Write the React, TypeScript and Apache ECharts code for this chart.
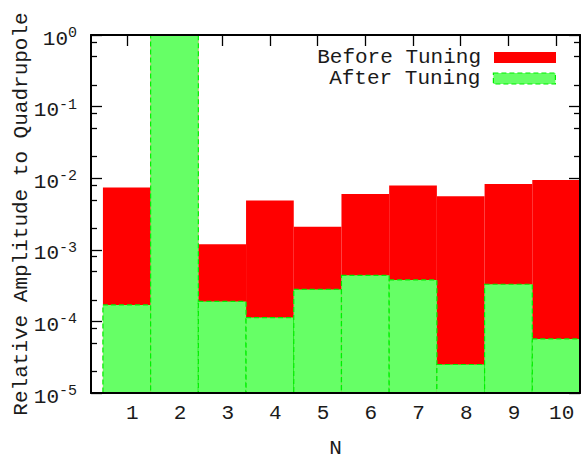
import React, { useEffect, useRef } from "react";
import * as echarts from "echarts";

const categories = [1, 2, 3, 4, 5, 6, 7, 8, 9, 10];
const beforeTuning = [7.4e-3, 1, 1.2e-3, 4.9e-3, 2.1e-3, 6.0e-3, 7.9e-3, 5.6e-3, 8.3e-3, 9.4e-3];
const afterTuning = [1.7e-4, 1, 1.9e-4, 1.13e-4, 2.8e-4, 4.4e-4, 3.8e-4, 2.5e-5, 3.3e-4, 5.7e-5];
const majorTicks = [1e-5, 1e-4, 1e-3, 1e-2, 1e-1, 1];
const minorTicks = [
  2e-5, 5e-5, 8e-5,
  2e-4, 5e-4, 8e-4,
  2e-3, 5e-3, 8e-3,
  2e-2, 5e-2, 8e-2,
  2e-1, 5e-1, 8e-1,
];

const FONT = "Liberation Mono";
const TEXT = "#1a1a1a";
const RED = "#ff0000";
const GREEN = "#66ff66";
const GREEN_EDGE = "#00f000";

export default function App() {
  const ref = useRef<HTMLDivElement>(null);
  useEffect(() => {
    if (!ref.current) return;
    const chart = echarts.init(ref.current, undefined, { renderer: "svg" });

    const barSeries = (name: string, values: number[], fill: string, stroke: string | null) => ({
      type: "custom",
      name,
      xAxisIndex: 0,
      yAxisIndex: 0,
      data: categories.map((c, i) => [c, values[i]]),
      itemStyle: stroke
        ? { color: fill, borderColor: stroke, borderWidth: 1, borderType: "dashed" }
        : { color: fill },
      renderItem: (params: any, api: any) => {
        const x = api.value(0);
        const v = api.value(1);
        const p0 = api.coord([x - 0.5, v]);
        const p1 = api.coord([x + 0.5, 1e-5]);
        return {
          type: "rect",
          shape: { x: p0[0], y: p0[1], width: p1[0] - p0[0], height: p1[1] - p0[1] },
          style: stroke
            ? { fill, stroke, lineWidth: 1.2, lineDash: [5, 3] }
            : { fill },
        };
      },
    });

    const logAxisBase = {
      type: "log",
      logBase: 10,
      min: 1e-5,
      max: 1,
      splitLine: { show: false },
      axisLabel: { show: false },
    };
    const blackLine = { show: true, lineStyle: { color: "#000", width: 2 } };

    const legendBase = {
      orient: "vertical",
      right: 30,
      padding: 0,
      align: "right",
      itemWidth: 62,
      itemHeight: 11,
      selectedMode: false,
      textStyle: { fontFamily: FONT, fontSize: 21, color: TEXT, padding: [0, 8, 0, 0] },
    };

    chart.setOption({
      animation: false,
      backgroundColor: "#fff",
      grid: { left: 91, right: 6, top: 35, bottom: 66, outerBoundsMode: "none", containLabel: false },
      legend: [
        {
          ...legendBase,
          top: 47,
          data: [{ name: "Before Tuning", icon: "rect", itemStyle: { color: RED } }],
        },
        {
          ...legendBase,
          top: 68,
          data: [
            {
              name: "After Tuning",
              icon: "rect",
              itemStyle: { color: GREEN, borderColor: GREEN_EDGE, borderWidth: 1.2, borderType: [5, 3] },
            },
          ],
        },
      ],
      xAxis: [
        {
          type: "value",
          position: "bottom",
          min: 0.25,
          max: 10.5,
          z: 10,
          axisLine: blackLine,
          axisTick: { show: false },
          splitLine: { show: false },
          name: "N",
          nameLocation: "middle",
          nameGap: 47,
          nameMoveOverlap: false,
          nameTextStyle: { fontFamily: FONT, fontSize: 21, lineHeight: 16, color: TEXT },
          axisLabel: {
            customValues: categories,
            formatter: (v: number) => String(v),
            fontFamily: FONT,
            fontSize: 21,
            color: TEXT,
            margin: 10,
            padding: [0, 0, 0, 11],
          },
        },
        {
          type: "value",
          position: "top",
          min: 0.25,
          max: 10.5,
          z: 0,
          axisLine: { show: false },
          axisTick: {
            show: true,
            inside: true,
            length: 11,
            customValues: categories,
            lineStyle: { color: "#000", width: 1.3 },
          },
          axisLabel: { show: false },
          splitLine: { show: false },
        },
        {
          type: "value",
          position: "top",
          min: 0.25,
          max: 10.5,
          z: 10,
          axisLine: blackLine,
          axisTick: { show: false },
          axisLabel: { show: false },
          splitLine: { show: false },
        },
      ],
      yAxis: [
        {
          ...logAxisBase,
          position: "left",
          z: 0,
          axisLine: blackLine,
          axisTick: {
            show: true,
            inside: true,
            length: 11,
            customValues: majorTicks,
            lineStyle: { color: "#000", width: 1.3 },
          },
          name: "Relative Amplitude to Quadrupole",
          nameLocation: "middle",
          nameGap: 59,
          nameMoveOverlap: false,
          nameTextStyle: { fontFamily: FONT, fontSize: 21, color: TEXT },
          axisLabel: {
            show: true,
            customValues: majorTicks,
            margin: 14,
            formatter: (v: number) => {
              const e = Math.round(Math.log10(v));
              return `{b|10}{s|${e}}`;
            },
            rich: {
              b: { fontFamily: FONT, fontSize: 21, color: TEXT, lineHeight: 22, padding: [8, 0, 0, 0] },
              s: { fontFamily: FONT, fontSize: 15, color: TEXT, lineHeight: 15, verticalAlign: "top", padding: [2, 0, 0, 0] },
            },
          },
        },
        {
          ...logAxisBase,
          position: "left",
          z: 0,
          axisLine: { show: false },
          axisTick: {
            show: true,
            inside: true,
            length: 6,
            customValues: minorTicks,
            lineStyle: { color: "#000", width: 1.3 },
          },
        },
        {
          ...logAxisBase,
          position: "right",
          z: 0,
          axisLine: { show: false },
          axisTick: {
            show: true,
            inside: true,
            length: 11,
            customValues: majorTicks,
            lineStyle: { color: "#000", width: 1.3 },
          },
        },
        {
          ...logAxisBase,
          position: "right",
          z: 0,
          axisLine: { show: false },
          axisTick: {
            show: true,
            inside: true,
            length: 6,
            customValues: minorTicks,
            lineStyle: { color: "#000", width: 1.3 },
          },
        },
        {
          ...logAxisBase,
          position: "right",
          z: 10,
          axisLine: blackLine,
          axisTick: { show: false },
        },
      ],
      series: [
        barSeries("Before Tuning", beforeTuning, RED, null),
        barSeries("After Tuning", afterTuning, GREEN, GREEN_EDGE),
      ],
    });
    return () => chart.dispose();
  }, []);

  return (
    <div
      ref={ref}
      style={{ position: "absolute", left: 0, top: 0, width: 586, height: 459 }}
    />
  );
}
